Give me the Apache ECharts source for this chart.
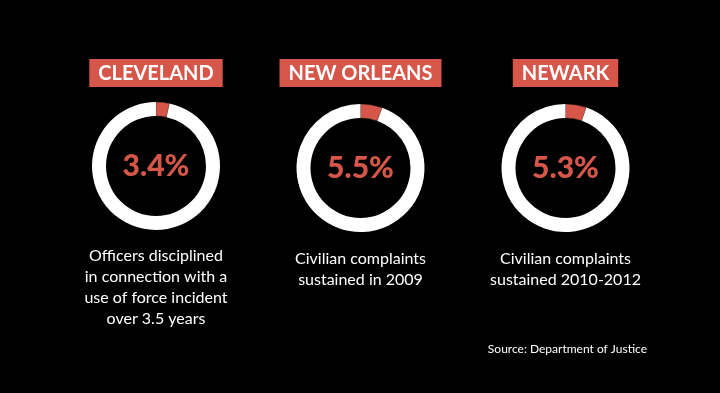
<!DOCTYPE html>
<html>
<head>
<meta charset="utf-8">
<script src="https://cdn.jsdelivr.net/npm/echarts@6/dist/echarts.min.js"></script>
<style>html,body{margin:0;padding:0;background:#000;}#c{width:720px;height:393px;}</style>
</head>
<body>
<div id="c"></div>
<script>
const cities = ['CLEVELAND', 'NEW ORLEANS', 'NEWARK'];
const values = [3.4, 5.5, 5.3];
const descriptions = [
  'Officers disciplined\nin connection with a\nuse of force incident\nover 3.5 years',
  'Civilian complaints\nsustained in 2009',
  'Civilian complaints\nsustained 2010-2012'
];
const sourceText = 'Source: Department of Justice';

const RED = '#d6574a';
const FONT = 'Lato';
const centersX = [156, 360.5, 565.5];
const centersY = [166, 168, 168];
const descTop = [245, 248, 248];

const chart = echarts.init(document.getElementById('c'), null, {renderer: 'canvas'});
const titles = [];
const series = [];
cities.forEach((name, i) => {
  titles.push({
    text: name,
    left: centersX[i] - 9,
    top: 59,
    textAlign: 'center',
    backgroundColor: RED,
    padding: [4, 9, 3, 9],
    itemGap: 0,
    textStyle: {color: '#fff', fontFamily: FONT, fontWeight: 'bold', fontSize: 20, lineHeight: 21}
  });
  titles.push({
    text: descriptions[i],
    left: centersX[i],
    top: descTop[i],
    textAlign: 'center',
    padding: 0,
    textStyle: {color: '#fff', fontFamily: FONT, fontWeight: 'normal', fontSize: 16, lineHeight: 21}
  });
  series.push({
    type: 'pie',
    center: [centersX[i], centersY[i]],
    radius: [50, 64],
    startAngle: 90,
    clockwise: true,
    silent: true,
    animation: false,
    label: {show: false},
    labelLine: {show: false},
    data: [
      {value: values[i], name: name, itemStyle: {color: RED, borderColor: '#222', borderWidth: 0.5},
       label: {show: true, position: 'center', formatter: values[i].toFixed(1) + '%',
               color: RED, fontFamily: FONT, fontWeight: 900, fontSize: 30, padding: [6, 0, 0, 0]}},
      {value: 100 - values[i], name: 'rest', itemStyle: {color: '#ffffff'}}
    ]
  });
});
titles.push({
  text: sourceText,
  right: 73,
  top: 343,
  padding: 0,
  textStyle: {color: '#fff', fontFamily: FONT, fontWeight: 'normal', fontSize: 12}
});

chart.setOption({
  backgroundColor: '#000',
  animation: false,
  title: titles,
  series: series
});
</script>
</body>
</html>
